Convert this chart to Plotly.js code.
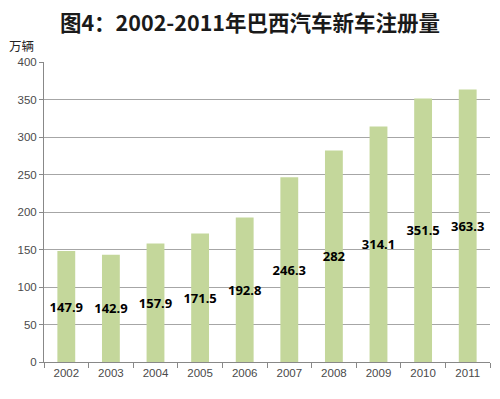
<!DOCTYPE html>
<html><head><meta charset="utf-8">
<script src="https://cdn.plot.ly/plotly-3.0.1.min.js"></script>
<style>html,body{margin:0;padding:0;background:#fff;}#c{width:500px;height:399px;}</style>
</head><body><div id="c"></div>
<script>
const years = ['2002','2003','2004','2005','2006','2007','2008','2009','2010','2011'];
const registrations = [147.9, 142.9, 157.9, 171.5, 192.8, 246.3, 282, 314.1, 351.5, 363.3];
const labels = ['147.9','142.9','157.9','171.5','192.8','246.3','282','314.1','351.5','363.3'];
const yTicks = [0, 50, 100, 150, 200, 250, 300, 350, 400];

const trace = {
  type: 'bar', x: years, y: registrations,
  text: labels, textposition: 'inside', insidetextanchor: 'middle', textangle: 0,
  constraintext: 'none', cliponaxis: false,
  textfont: {family: 'Noto Sans, sans-serif', size: 13, color: '#000', weight: 'bold'},
  marker: {color: '#c4d79b'}, hoverinfo: 'none'
};
const layout = {
  width: 500, height: 399,
  margin: {l: 44, r: 10, t: 62, b: 37},
  paper_bgcolor: '#fff', plot_bgcolor: '#fff',
  bargap: 0.6, showlegend: false,
  font: {family: 'Noto Sans CJK SC, sans-serif'},
  title: {text: '<b>图4：2002-2011年巴西汽车新车注册量</b>', x: 0.5, xanchor: 'center', y: 0.94, yanchor: 'middle',
          font: {family: 'Noto Sans CJK SC, sans-serif', size: 21.5, color: '#1a1a1a'}},
  xaxis: {type: 'category', tickson: 'boundaries', ticks: 'outside', ticklen: 5, tickcolor: '#888',
          showline: true, linecolor: '#888', linewidth: 1, showgrid: false,
          tickfont: {family: 'Liberation Sans, sans-serif', size: 11.5, color: '#4a4a4a'}},
  yaxis: {range: [0, 400], tickvals: yTicks, ticks: 'outside', ticklen: 4, tickcolor: '#888',
          showline: true, linecolor: '#888', linewidth: 1, showgrid: true, gridcolor: '#a6a6a6', gridwidth: 1,
          zeroline: false,
          tickfont: {family: 'Liberation Sans, sans-serif', size: 11.5, color: '#4a4a4a'}},
  annotations: [{text: '万辆', xref: 'paper', yref: 'paper', x: -0.083, y: 1.055, xanchor: 'left', yanchor: 'middle',
                 showarrow: false, font: {family: 'Noto Sans CJK SC, sans-serif', size: 12.5, color: '#222'}}]
};
Plotly.newPlot('c', [trace], layout, {displayModeBar: false, staticPlot: true});
</script></body></html>
